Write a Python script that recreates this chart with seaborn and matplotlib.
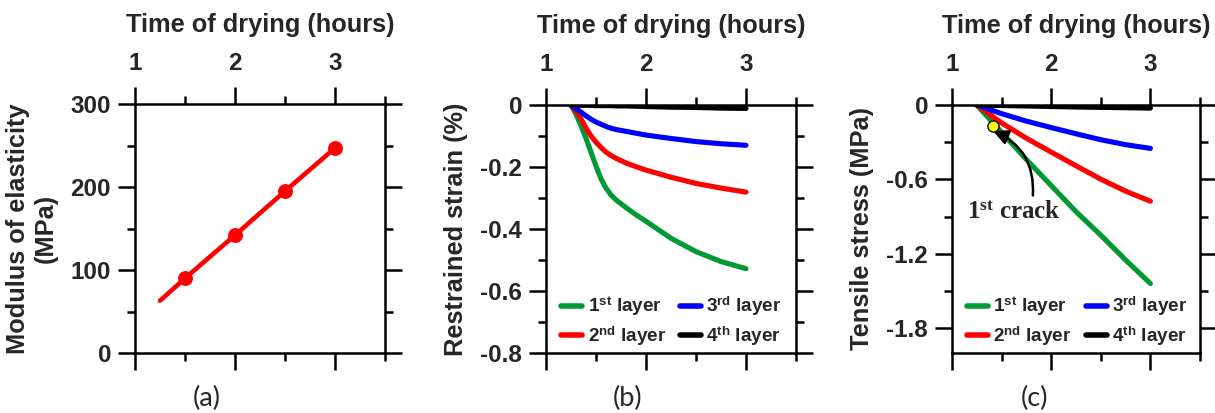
import matplotlib
matplotlib.use("Agg")
import matplotlib.pyplot as plt
import seaborn as sns

# ---------------- data ----------------
# (a) modulus of elasticity
t_a = [1.25, 1.5, 2.0, 2.5, 3.0]
modulus = [63, 90, 142, 195, 247]
t_a_marks = [1.5, 2.0, 2.5, 3.0]
modulus_marks = [90, 142, 195, 247]

# (b) restrained strain (%)
t_b = [1.25, 1.3, 1.35, 1.4, 1.45, 1.5, 1.55, 1.6, 1.65, 1.7, 1.8, 1.9, 2.0, 2.25, 2.5, 2.75, 3.0]
strain_l1 = [0, -0.030, -0.067, -0.108, -0.152, -0.197, -0.238, -0.268, -0.290, -0.306, -0.331,
             -0.354, -0.375, -0.430, -0.473, -0.505, -0.528]
strain_l2 = [0, -0.020, -0.045, -0.074, -0.100, -0.120, -0.137, -0.152, -0.163, -0.172, -0.187,
             -0.199, -0.210, -0.233, -0.253, -0.268, -0.281]
strain_l3 = [0, -0.012, -0.023, -0.035, -0.046, -0.055, -0.062, -0.069, -0.075, -0.079, -0.085,
             -0.091, -0.097, -0.108, -0.118, -0.125, -0.130]
strain_l4 = [0, 0.000, -0.001, -0.001, -0.001, -0.002, -0.002, -0.002, -0.002, -0.003, -0.003,
             -0.004, -0.005, -0.007, -0.008, -0.010, -0.011]

# (c) tensile stress (MPa)
t_c = [1.25, 1.5, 1.75, 2.0, 2.25, 2.5, 2.75, 3.0]
stress_l1 = [0, -0.22, -0.44, -0.65, -0.86, -1.05, -1.25, -1.44]
stress_l2 = [0, -0.145, -0.268, -0.38, -0.49, -0.598, -0.695, -0.776]
stress_l3 = [0, -0.07, -0.13, -0.182, -0.232, -0.28, -0.32, -0.35]
stress_l4 = [0, -0.004, -0.008, -0.012, -0.016, -0.019, -0.022, -0.025]
crack_t = [1.415]
crack_stress = [-0.17]

layer_labels = [r"1$^{\mathbf{st}}$ layer", r"2$^{\mathbf{nd}}$ layer",
                r"3$^{\mathbf{rd}}$ layer", r"4$^{\mathbf{th}}$ layer"]
layer_colors = ["#009933", "#ff0000", "#0000ff", "#000000"]

x_major = [1, 2, 3]
x_major_labels = ["1", "2", "3"]
x_minor = [1.5, 2.5, 3.5]

ya_major = [0, 100, 200, 300]
ya_labels = ["0", "100", "200", "300"]
ya_minor = [50, 150, 250]
yb_major = [0, -0.2, -0.4, -0.6, -0.8]
yb_labels = ["0", "-0.2", "-0.4", "-0.6", "-0.8"]
yb_minor = [-0.1, -0.3, -0.5, -0.7]
yc_major = [0, -0.6, -1.2, -1.8]
yc_labels = ["0", "-0.6", "-1.2", "-1.8"]
yc_minor = [-0.3, -0.9, -1.5]

panel_tags = ["(a)", "(b)", "(c)"]

# ---------------- style ----------------
sns.set_style("ticks")
plt.rcParams["font.family"] = ["Liberation Sans", "DejaVu Sans"]
plt.rcParams["font.weight"] = "bold"
plt.rcParams["axes.unicode_minus"] = False
plt.rcParams["mathtext.fontset"] = "custom"
plt.rcParams["mathtext.bf"] = "Liberation Sans:bold"
plt.rcParams["mathtext.rm"] = "Liberation Sans:bold"
plt.rcParams["mathtext.it"] = "Liberation Serif"

fig = plt.figure(figsize=(12.15, 4.13), dpi=100)
W, H = 1215, 413

def box(l, r, t, b):
    return [l / W, 1 - b / H, (r - l) / W, (b - t) / H]

ax_a = fig.add_axes(box(135, 385, 104, 353))
ax_b = fig.add_axes(box(546, 796, 105, 353))
ax_c = fig.add_axes(box(952, 1200, 105, 353))

SPW = 1.8
TICK_FS = 17.5
LABEL_FS = 18.3

def style_axes(ax, ymaj, ylab, ymin, ylim, ylabel):
    ax.set_xlim(1, 3.5)
    ax.set_ylim(*ylim)
    ax.set_xticks(x_major)
    ax.set_xticks(x_minor, minor=True)
    ax.set_yticks(ymaj)
    ax.set_yticks(ymin, minor=True)
    for s in ax.spines.values():
        s.set_visible(True)
        s.set_linewidth(SPW)
        s.set_color("black")
    ax.tick_params(axis="x", which="both", direction="out", top=True, bottom=True,
                   labeltop=True, labelbottom=False, width=SPW, color="black")
    ax.tick_params(axis="y", which="both", direction="out", left=True, right=True,
                   labelleft=True, labelright=False, width=SPW, color="black")
    ax.tick_params(axis="x", which="major", length=12.2, pad=9.0, labelsize=TICK_FS)
    ax.tick_params(axis="x", which="minor", length=5.8)
    ax.tick_params(axis="y", which="major", length=12.2, pad=5.0, labelsize=TICK_FS)
    ax.tick_params(axis="y", which="minor", length=5.8)
    ax.set_xticklabels(x_major_labels, fontsize=TICK_FS, fontweight="bold")
    ax.set_yticklabels(ylab, fontsize=TICK_FS, fontweight="bold")
    ax.xaxis.set_label_position("top")
    ax.set_xlabel("Time of drying (hours)", fontsize=LABEL_FS, fontweight="bold", labelpad=14)
    ax.set_ylabel(ylabel, fontsize=LABEL_FS, fontweight="bold", labelpad=9, linespacing=1.22)
    ax.set_facecolor("white")

# (a)
sns.lineplot(x=t_a, y=modulus, ax=ax_a, color="#ff0000", linewidth=3.3,
             solid_capstyle="round", legend=False)
sns.scatterplot(x=t_a_marks, y=modulus_marks, ax=ax_a, color="#ff0000", s=115,
                edgecolor="#ff0000", linewidth=0, zorder=3, legend=False)
style_axes(ax_a, ya_major, ya_labels, ya_minor, (0, 300), "Modulus of elasticity\n(MPa)")

# (b)
for ys, lab, col in zip([strain_l1, strain_l2, strain_l3, strain_l4], layer_labels, layer_colors):
    sns.lineplot(x=t_b, y=ys, ax=ax_b, color=col, linewidth=3.7, label=lab,
                 solid_capstyle="round")
style_axes(ax_b, yb_major, yb_labels, yb_minor, (-0.8, 0), "Restrained strain (%)")

# (c)
for ys, lab, col in zip([stress_l1, stress_l2, stress_l3, stress_l4], layer_labels, layer_colors):
    sns.lineplot(x=t_c, y=ys, ax=ax_c, color=col, linewidth=3.7, label=lab,
                 solid_capstyle="round")
sns.scatterplot(x=crack_t, y=crack_stress, ax=ax_c, color="#ffff00", s=65,
                edgecolor="black", linewidth=1.0, zorder=5, legend=False)
style_axes(ax_c, yc_major, yc_labels, yc_minor, (-2.0, 0), "Tensile stress (MPa)")

ax_c.annotate("", xy=(crack_t[0], -0.21), xytext=(1.815, -0.73),
              arrowprops=dict(arrowstyle="-|>,head_length=0.9,head_width=0.45",
                              color="black", lw=1.8,
                              connectionstyle="arc3,rad=0.35", shrinkA=0, shrinkB=0))
ax_c.text(1.625, -0.775, r"1$^{st}$ crack", ha="center", va="top", fontsize=18,
          fontweight="bold", family=["Liberation Serif", "DejaVu Serif"])

# legends
for ax in (ax_b, ax_c):
    handles, labels = ax.get_legend_handles_labels()
    leg = ax.legend(handles, labels, ncol=2, loc="lower left",
                    bbox_to_anchor=(0.015, -0.025), frameon=False,
                    prop={"family": "Liberation Sans", "weight": "bold", "size": 13.6},
                    handlelength=1.1, handletextpad=0.3, columnspacing=0.75,
                    labelspacing=0.32, borderaxespad=0.2)
    for h in leg.get_lines():
        h.set_linewidth(4.0)
        h.set_solid_capstyle("round")

# panel tags
for (x, tag) in zip([207, 628, 1034], panel_tags):
    fig.text(x / W, 1 - 398 / H, tag, ha="center", va="center", fontsize=19.5,
             family=["Lato", "DejaVu Sans"], fontweight="normal")

fig.savefig("out.png", dpi=100, facecolor="white")
